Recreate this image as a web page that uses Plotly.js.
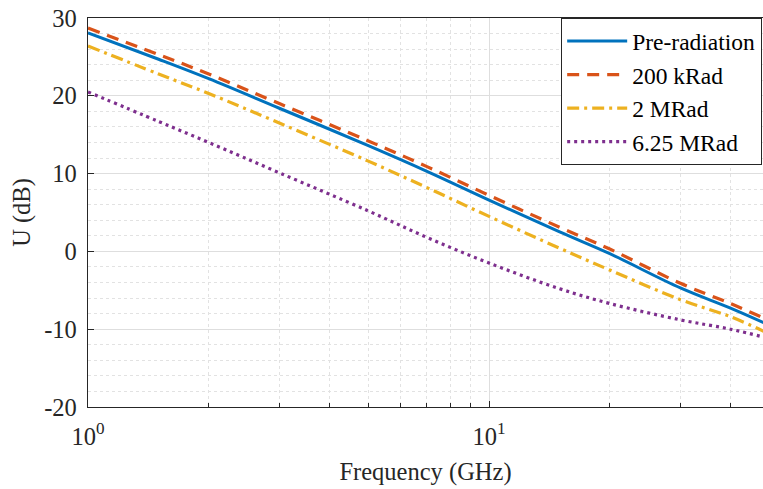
<!DOCTYPE html>
<html>
<head>
<meta charset="utf-8">
<script src="https://cdn.plot.ly/plotly-3.0.1.min.js"></script>
<style>html,body{margin:0;padding:0;background:#fff;}#chart{width:763px;height:489px;}</style>
</head>
<body>
<div id="chart"></div>
<script>
const freqGHz = [1, 1.5, 2, 3, 5, 7, 10, 15, 20, 30, 40, 50];
const preRadiation = [28.1, 24.7, 22.2, 18.4, 13.6, 10.3, 6.6, 2.5, -0.3, -4.7, -7.3, -9.5];
const kRad200 = [28.7, 25.3, 22.8, 19.0, 14.2, 10.9, 7.2, 3.1, 0.3, -4.1, -6.7, -8.9];
const mRad2 = [26.4, 22.8, 20.3, 16.5, 11.6, 8.2, 4.5, 0.4, -2.4, -6.2, -8.4, -10.6];
const mRad625 = [20.5, 16.7, 14.0, 10.1, 5.2, 1.8, -1.5, -4.8, -6.7, -8.8, -10.0, -11.2];
const seriesNames = ['Pre-radiation', '200 kRad', '2 MRad', '6.25 MRad'];
const xTickVals = [1, 10];
const xTickText = ['10<sup>0</sup>', '10<sup>1</sup>'];
const xMinorVals = [2, 3, 4, 5, 6, 7, 8, 9, 20, 30, 40];
const yTickVals = [-20, -10, 0, 10, 20, 30];
const yTickText = ['-20', '-10', '0', '10', '20', '30'];

const font = "'Liberation Serif', 'Times New Roman', serif";
const fs = 24.5;
const traces = [
  {x: freqGHz, y: preRadiation, name: seriesNames[0], line: {color: '#0072BD', width: 3, shape: 'spline'}},
  {x: freqGHz, y: kRad200, name: seriesNames[1], line: {color: '#D95319', width: 3.2, dash: '12px,8px', shape: 'spline'}},
  {x: freqGHz, y: mRad2, name: seriesNames[2], line: {color: '#EDB120', width: 3.2, dash: '12px,5px,3px,5px', shape: 'spline'}},
  {x: freqGHz, y: mRad625, name: seriesNames[3], line: {color: '#7E2F8E', width: 3.2, dash: '3px,4px', shape: 'spline'}}
].map(t => Object.assign({type: 'scatter', mode: 'lines'}, t));

const layout = {
  width: 763, height: 489,
  margin: {l: 88, r: 0, t: 18, b: 82, autoexpand: false},
  paper_bgcolor: '#fff', plot_bgcolor: '#fff',
  font: {family: font, size: fs, color: '#262626'},
  showlegend: true,
  legend: {x: 0.7007, y: 1, xanchor: 'left', yanchor: 'top', bgcolor: '#fff', bordercolor: '#262626', borderwidth: 1.2,
           itemwidth: 60, font: {family: font, size: 23.5, color: '#000'}, tracegroupgap: 0},
  xaxis: {
    type: 'log', range: [0, Math.log10(48.2)],
    tickmode: 'array', tickvals: xTickVals, ticktext: xTickText,
    ticks: 'inside', ticklen: 6, tickcolor: '#262626', ticklabelstandoff: 7,
    showline: true, linecolor: '#262626', linewidth: 1.3, mirror: true,
    showgrid: true, gridcolor: '#dedede', gridwidth: 1,
    minor: {tickmode: 'array', tickvals: xMinorVals, ticks: 'inside', ticklen: 4, tickcolor: '#262626',
            showgrid: true, gridcolor: '#e2e2e2', griddash: 'dot', gridwidth: 1},
    zeroline: false,
    title: {text: 'Frequency (GHz)', font: {family: font, size: fs, color: '#262626'}, standoff: 14},
    tickfont: {family: font, size: fs, color: '#262626'}
  },
  yaxis: {
    range: [-20, 30], tickmode: 'array', tickvals: yTickVals, ticktext: yTickText,
    ticks: 'inside', ticklen: 6, tickcolor: '#262626', ticklabelstandoff: 5,
    showline: true, linecolor: '#262626', linewidth: 1.3, mirror: false,
    showgrid: true, gridcolor: '#dedede', gridwidth: 1,
    minor: {dtick: 2, showgrid: true, gridcolor: '#e2e2e2', griddash: 'dot', gridwidth: 1},
    zeroline: false,
    title: {text: 'U (dB)', font: {family: font, size: fs, color: '#262626'}, standoff: 6},
    tickfont: {family: font, size: fs, color: '#262626'}
  }
};

Plotly.newPlot('chart', traces, layout, {displayModeBar: false, staticPlot: true});
</script>
</body>
</html>
